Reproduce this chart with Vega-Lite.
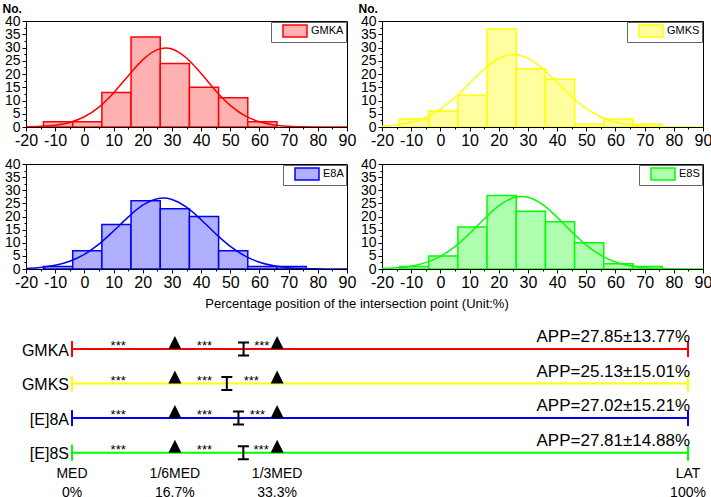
{
  "$schema": "https://vega.github.io/schema/vega-lite/v6.json",
  "bounds": "flush",
  "columns": 2,
  "spacing": {"row": 37, "column": 35},
  "padding": {"left": 1, "top": 1, "right": 5, "bottom": 0},
  "resolve": {"scale": {"fill": "independent", "color": "independent", "x": "independent", "y": "independent"}},
  "config": {
    "font": "Liberation Sans",
    "view": {"stroke": "black", "strokeWidth": 1},
    "axis": {"labelFont": "Liberation Sans", "titleFont": "Liberation Sans", "labelColor": "black", "titleColor": "black", "tickColor": "black", "domainColor": "black", "grid": false},
    "text": {"font": "Liberation Sans", "color": "black"},
    "legend": {"labelFont": "Liberation Sans", "labelColor": "black"},
    "title": {"font": "Liberation Sans", "color": "black"}
  },
  "datasets": {
    "hist": [
      {"group": "GMKA", "lo": -14, "hi": -4, "n": 2},
      {"group": "GMKA", "lo": -4, "hi": 6, "n": 2},
      {"group": "GMKA", "lo": 6, "hi": 16, "n": 13},
      {"group": "GMKA", "lo": 16, "hi": 26, "n": 34},
      {"group": "GMKA", "lo": 26, "hi": 36, "n": 24},
      {"group": "GMKA", "lo": 36, "hi": 46, "n": 15},
      {"group": "GMKA", "lo": 46, "hi": 56, "n": 11},
      {"group": "GMKA", "lo": 56, "hi": 66, "n": 2},
      {"group": "GMKS", "lo": -14, "hi": -4, "n": 3},
      {"group": "GMKS", "lo": -4, "hi": 6, "n": 6},
      {"group": "GMKS", "lo": 6, "hi": 16, "n": 12},
      {"group": "GMKS", "lo": 16, "hi": 26, "n": 37},
      {"group": "GMKS", "lo": 26, "hi": 36, "n": 22},
      {"group": "GMKS", "lo": 36, "hi": 46, "n": 18},
      {"group": "GMKS", "lo": 46, "hi": 56, "n": 1},
      {"group": "GMKS", "lo": 56, "hi": 66, "n": 3},
      {"group": "GMKS", "lo": 66, "hi": 76, "n": 1},
      {"group": "E8A", "lo": -14, "hi": -4, "n": 1},
      {"group": "E8A", "lo": -4, "hi": 6, "n": 7},
      {"group": "E8A", "lo": 6, "hi": 16, "n": 17},
      {"group": "E8A", "lo": 16, "hi": 26, "n": 26},
      {"group": "E8A", "lo": 26, "hi": 36, "n": 23},
      {"group": "E8A", "lo": 36, "hi": 46, "n": 20},
      {"group": "E8A", "lo": 46, "hi": 56, "n": 7},
      {"group": "E8A", "lo": 56, "hi": 66, "n": 1},
      {"group": "E8A", "lo": 66, "hi": 76, "n": 1},
      {"group": "E8S", "lo": -14, "hi": -4, "n": 1},
      {"group": "E8S", "lo": -4, "hi": 6, "n": 5},
      {"group": "E8S", "lo": 6, "hi": 16, "n": 16},
      {"group": "E8S", "lo": 16, "hi": 26, "n": 28},
      {"group": "E8S", "lo": 26, "hi": 36, "n": 22},
      {"group": "E8S", "lo": 36, "hi": 46, "n": 18},
      {"group": "E8S", "lo": 46, "hi": 56, "n": 10},
      {"group": "E8S", "lo": 56, "hi": 66, "n": 2},
      {"group": "E8S", "lo": 66, "hi": 76, "n": 1}
    ],
    "fit": [
      {"group": "GMKA", "x": -20, "y": 0.07}, {"group": "GMKA", "x": -15, "y": 0.24}, {"group": "GMKA", "x": -10, "y": 0.68}, {"group": "GMKA", "x": -5, "y": 1.73},
      {"group": "GMKA", "x": 0, "y": 3.86}, {"group": "GMKA", "x": 5, "y": 7.52}, {"group": "GMKA", "x": 10, "y": 12.87}, {"group": "GMKA", "x": 15, "y": 19.28},
      {"group": "GMKA", "x": 20, "y": 25.33}, {"group": "GMKA", "x": 25, "y": 29.18}, {"group": "GMKA", "x": 27.85, "y": 29.8}, {"group": "GMKA", "x": 30, "y": 29.44},
      {"group": "GMKA", "x": 35, "y": 26.04}, {"group": "GMKA", "x": 40, "y": 20.19}, {"group": "GMKA", "x": 45, "y": 13.72}, {"group": "GMKA", "x": 50, "y": 8.17},
      {"group": "GMKA", "x": 55, "y": 4.27}, {"group": "GMKA", "x": 60, "y": 1.95}, {"group": "GMKA", "x": 65, "y": 0.78}, {"group": "GMKA", "x": 70, "y": 0.28},
      {"group": "GMKA", "x": 75, "y": 0.08}, {"group": "GMKA", "x": 80, "y": 0.02}, {"group": "GMKA", "x": 85, "y": 0}, {"group": "GMKA", "x": 90, "y": 0},
      {"group": "GMKS", "x": -20, "y": 0.3}, {"group": "GMKS", "x": -15, "y": 0.77}, {"group": "GMKS", "x": -10, "y": 1.77}, {"group": "GMKS", "x": -5, "y": 3.65},
      {"group": "GMKS", "x": 0, "y": 6.75}, {"group": "GMKS", "x": 5, "y": 11.15}, {"group": "GMKS", "x": 10, "y": 16.49}, {"group": "GMKS", "x": 15, "y": 21.82},
      {"group": "GMKS", "x": 20, "y": 25.85}, {"group": "GMKS", "x": 25.13, "y": 27.4}, {"group": "GMKS", "x": 30, "y": 25.99}, {"group": "GMKS", "x": 35, "y": 22.07},
      {"group": "GMKS", "x": 40, "y": 16.77}, {"group": "GMKS", "x": 45, "y": 11.41}, {"group": "GMKS", "x": 50, "y": 6.94}, {"group": "GMKS", "x": 55, "y": 3.78},
      {"group": "GMKS", "x": 60, "y": 1.84}, {"group": "GMKS", "x": 65, "y": 0.8}, {"group": "GMKS", "x": 70, "y": 0.31}, {"group": "GMKS", "x": 75, "y": 0.11},
      {"group": "GMKS", "x": 80, "y": 0.03}, {"group": "GMKS", "x": 85, "y": 0.01}, {"group": "GMKS", "x": 90, "y": 0},
      {"group": "E8A", "x": -20, "y": 0.23}, {"group": "E8A", "x": -15, "y": 0.59}, {"group": "E8A", "x": -10, "y": 1.4}, {"group": "E8A", "x": -5, "y": 2.95},
      {"group": "E8A", "x": 0, "y": 5.58}, {"group": "E8A", "x": 5, "y": 9.48}, {"group": "E8A", "x": 10, "y": 14.45}, {"group": "E8A", "x": 15, "y": 19.77},
      {"group": "E8A", "x": 20, "y": 24.29}, {"group": "E8A", "x": 25, "y": 26.78}, {"group": "E8A", "x": 27.02, "y": 27.02}, {"group": "E8A", "x": 30, "y": 26.5},
      {"group": "E8A", "x": 35, "y": 23.54}, {"group": "E8A", "x": 40, "y": 18.78}, {"group": "E8A", "x": 45, "y": 13.43}, {"group": "E8A", "x": 50, "y": 8.63},
      {"group": "E8A", "x": 55, "y": 4.98}, {"group": "E8A", "x": 60, "y": 2.57}, {"group": "E8A", "x": 65, "y": 1.2}, {"group": "E8A", "x": 70, "y": 0.5},
      {"group": "E8A", "x": 75, "y": 0.19}, {"group": "E8A", "x": 80, "y": 0.06}, {"group": "E8A", "x": 85, "y": 0.02}, {"group": "E8A", "x": 90, "y": 0.01},
      {"group": "E8S", "x": -20, "y": 0.16}, {"group": "E8S", "x": -15, "y": 0.44}, {"group": "E8S", "x": -10, "y": 1.09}, {"group": "E8S", "x": -5, "y": 2.43},
      {"group": "E8S", "x": 0, "y": 4.82}, {"group": "E8S", "x": 5, "y": 8.53}, {"group": "E8S", "x": 10, "y": 13.5}, {"group": "E8S", "x": 15, "y": 19.07},
      {"group": "E8S", "x": 20, "y": 24.07}, {"group": "E8S", "x": 25, "y": 27.13}, {"group": "E8S", "x": 27.81, "y": 27.62}, {"group": "E8S", "x": 30, "y": 27.32},
      {"group": "E8S", "x": 35, "y": 24.58}, {"group": "E8S", "x": 40, "y": 19.75}, {"group": "E8S", "x": 45, "y": 14.17}, {"group": "E8S", "x": 50, "y": 9.08},
      {"group": "E8S", "x": 55, "y": 5.2}, {"group": "E8S", "x": 60, "y": 2.66}, {"group": "E8S", "x": 65, "y": 1.22}, {"group": "E8S", "x": 70, "y": 0.5},
      {"group": "E8S", "x": 75, "y": 0.18}, {"group": "E8S", "x": 80, "y": 0.06}, {"group": "E8S", "x": 85, "y": 0.02}, {"group": "E8S", "x": 90, "y": 0}
    ],
    "diag": [
      {"name": "GMKA", "mean": 27.85, "app": "APP=27.85±13.77%", "s1": 7.5, "s2": 21.5, "s3": 30.8},
      {"name": "GMKS", "mean": 25.13, "app": "APP=25.13±15.01%", "s1": 7.5, "s2": 21.5, "s3": 29.1},
      {"name": "[E]8A", "mean": 27.02, "app": "APP=27.02±15.21%", "s1": 7.5, "s2": 21.5, "s3": 30.1},
      {"name": "[E]8S", "mean": 27.81, "app": "APP=27.81±14.88%", "s1": 7.5, "s2": 21.5, "s3": 30.7}
    ],
    "ends": [
      {"label": "MED\n0%", "pos": 0},
      {"label": "1/6MED\n16.7%", "pos": 16.7},
      {"label": "1/3MED\n33.3%", "pos": 33.3},
      {"label": "LAT\n100%", "pos": 100}
    ]
  },
  "concat": [
    {
      "width": 321, "height": 106,
      "layer": [
        {
          "data": {"name": "hist"},
          "transform": [{"filter": "datum.group === 'GMKA'"}],
          "mark": {"type": "rect", "stroke": "#ff0000", "strokeWidth": 1.5, "clip": true},
          "encoding": {
            "x": {"field": "lo", "type": "quantitative", "scale": {"domain": [-20, 90], "nice": false, "zero": false},
              "axis": {"values": [-20, -10, 0, 10, 20, 30, 40, 50, 60, 70, 80, 90], "labelExpr": "datum.value < 0 ? '-' + abs(datum.value) : datum.label", "title": null, "labelFontSize": 16, "tickSize": 4, "labelPadding": 1, "labelOverlap": false, "labelFlush": false}},
            "x2": {"field": "hi"},
            "y": {"field": "n", "type": "quantitative", "scale": {"domain": [0, 40], "nice": false},
              "axis": {"values": [0, 5, 10, 15, 20, 25, 30, 35, 40], "title": "No.", "titleAngle": 0, "titleX": -24, "titleY": -9, "titleAlign": "left", "titleBaseline": "alphabetic", "titleFontSize": 12, "titleFontWeight": "bold", "labelFontSize": 14, "tickSize": 4, "labelPadding": 2, "labelOverlap": false, "labelFlush": false}},
            "y2": {"datum": 0},
            "fill": {"field": "group", "type": "nominal", "scale": {"range": ["#ffb0b0"]},
              "legend": {"orient": "top-right", "offset": 1, "title": null, "padding": 2, "strokeColor": "#666666", "fillColor": "white", "symbolType": "M-2,-1L2,-1L2,1L-2,1Z", "symbolSize": 144, "symbolStrokeColor": "#ff0000", "symbolStrokeWidth": 1.5, "symbolOffset": 15, "labelFontSize": 11, "labelOffset": 9, "labelExpr": "datum.label + '\u00a0\u00a0\u00a0\u00a0'"}}
          }
        },
        {
          "data": {"name": "fit"},
          "transform": [{"filter": "datum.group === 'GMKA'"}],
          "mark": {"type": "line", "stroke": "#ff0000", "strokeWidth": 1.5, "interpolate": "monotone", "clip": true},
          "encoding": {
            "x": {"field": "x", "type": "quantitative", "scale": {"domain": [-20, 90], "nice": false, "zero": false},
              "axis": {"values": [-15, -5, 5, 15, 25, 35, 45, 55, 65, 75, 85], "labels": false, "domain": false, "tickSize": 2, "title": null, "orient": "bottom"}},
            "y": {"field": "y", "type": "quantitative", "scale": {"domain": [0, 40], "nice": false},
              "axis": {"values": [2.5, 7.5, 12.5, 17.5, 22.5, 27.5, 32.5, 37.5], "labels": false, "domain": false, "tickSize": 2, "title": null, "orient": "left"}}
          }
        }
      ],
      "resolve": {"axis": {"x": "independent", "y": "independent"}}
    },
    {
      "width": 321, "height": 106,
      "layer": [
        {
          "data": {"name": "hist"},
          "transform": [{"filter": "datum.group === 'GMKS'"}],
          "mark": {"type": "rect", "stroke": "#ffff00", "strokeWidth": 1.5, "clip": true},
          "encoding": {
            "x": {"field": "lo", "type": "quantitative", "scale": {"domain": [-20, 90], "nice": false, "zero": false},
              "axis": {"values": [-20, -10, 0, 10, 20, 30, 40, 50, 60, 70, 80, 90], "labelExpr": "datum.value < 0 ? '-' + abs(datum.value) : datum.label", "title": null, "labelFontSize": 16, "tickSize": 4, "labelPadding": 1, "labelOverlap": false, "labelFlush": false}},
            "x2": {"field": "hi"},
            "y": {"field": "n", "type": "quantitative", "scale": {"domain": [0, 40], "nice": false},
              "axis": {"values": [0, 5, 10, 15, 20, 25, 30, 35, 40], "title": "No.", "titleAngle": 0, "titleX": -24, "titleY": -9, "titleAlign": "left", "titleBaseline": "alphabetic", "titleFontSize": 12, "titleFontWeight": "bold", "labelFontSize": 14, "tickSize": 4, "labelPadding": 2, "labelOverlap": false, "labelFlush": false}},
            "y2": {"datum": 0},
            "fill": {"field": "group", "type": "nominal", "scale": {"range": ["#ffffa0"]},
              "legend": {"orient": "top-right", "offset": 1, "title": null, "padding": 2, "strokeColor": "#666666", "fillColor": "white", "symbolType": "M-2,-1L2,-1L2,1L-2,1Z", "symbolSize": 144, "symbolStrokeColor": "#ffff00", "symbolStrokeWidth": 1.5, "symbolOffset": 15, "labelFontSize": 11, "labelOffset": 9, "labelExpr": "datum.label + '\u00a0\u00a0\u00a0\u00a0'"}}
          }
        },
        {
          "data": {"name": "fit"},
          "transform": [{"filter": "datum.group === 'GMKS'"}],
          "mark": {"type": "line", "stroke": "#ffff00", "strokeWidth": 1.5, "interpolate": "monotone", "clip": true},
          "encoding": {
            "x": {"field": "x", "type": "quantitative", "scale": {"domain": [-20, 90], "nice": false, "zero": false},
              "axis": {"values": [-15, -5, 5, 15, 25, 35, 45, 55, 65, 75, 85], "labels": false, "domain": false, "tickSize": 2, "title": null, "orient": "bottom"}},
            "y": {"field": "y", "type": "quantitative", "scale": {"domain": [0, 40], "nice": false},
              "axis": {"values": [2.5, 7.5, 12.5, 17.5, 22.5, 27.5, 32.5, 37.5], "labels": false, "domain": false, "tickSize": 2, "title": null, "orient": "left"}}
          }
        }
      ],
      "resolve": {"axis": {"x": "independent", "y": "independent"}}
    },
    {
      "width": 321, "height": 105,
      "layer": [
        {
          "data": {"name": "hist"},
          "transform": [{"filter": "datum.group === 'E8A'"}],
          "mark": {"type": "rect", "stroke": "#0000ff", "strokeWidth": 1.5, "clip": true},
          "encoding": {
            "x": {"field": "lo", "type": "quantitative", "scale": {"domain": [-20, 90], "nice": false, "zero": false},
              "axis": {"values": [-20, -10, 0, 10, 20, 30, 40, 50, 60, 70, 80, 90], "labelExpr": "datum.value < 0 ? '-' + abs(datum.value) : datum.label", "title": null, "labelFontSize": 16, "tickSize": 4, "labelPadding": 1, "labelOverlap": false, "labelFlush": false}},
            "x2": {"field": "hi"},
            "y": {"field": "n", "type": "quantitative", "scale": {"domain": [0, 40], "nice": false},
              "axis": {"values": [0, 5, 10, 15, 20, 25, 30, 35, 40], "title": null, "labelFontSize": 14, "tickSize": 4, "labelPadding": 2, "labelOverlap": false, "labelFlush": false}},
            "y2": {"datum": 0},
            "fill": {"field": "group", "type": "nominal", "scale": {"range": ["#b0b0ff"]},
              "legend": {"orient": "top-right", "offset": 1, "title": null, "padding": 2, "strokeColor": "#666666", "fillColor": "white", "symbolType": "M-2,-1L2,-1L2,1L-2,1Z", "symbolSize": 144, "symbolStrokeColor": "#0000ff", "symbolStrokeWidth": 1.5, "symbolOffset": 15, "labelFontSize": 11, "labelOffset": 9, "labelExpr": "datum.label + '\u00a0\u00a0\u00a0'"}}
          }
        },
        {
          "data": {"name": "fit"},
          "transform": [{"filter": "datum.group === 'E8A'"}],
          "mark": {"type": "line", "stroke": "#0000ff", "strokeWidth": 1.5, "interpolate": "monotone", "clip": true},
          "encoding": {
            "x": {"field": "x", "type": "quantitative", "scale": {"domain": [-20, 90], "nice": false, "zero": false},
              "axis": {"values": [-15, -5, 5, 15, 25, 35, 45, 55, 65, 75, 85], "labels": false, "domain": false, "tickSize": 2, "title": null, "orient": "bottom"}},
            "y": {"field": "y", "type": "quantitative", "scale": {"domain": [0, 40], "nice": false},
              "axis": {"values": [2.5, 7.5, 12.5, 17.5, 22.5, 27.5, 32.5, 37.5], "labels": false, "domain": false, "tickSize": 2, "title": null, "orient": "left"}}
          }
        }
      ],
      "resolve": {"axis": {"x": "independent", "y": "independent"}}
    },
    {
      "width": 321, "height": 105,
      "layer": [
        {
          "data": {"name": "hist"},
          "transform": [{"filter": "datum.group === 'E8S'"}],
          "mark": {"type": "rect", "stroke": "#00ff00", "strokeWidth": 1.5, "clip": true},
          "encoding": {
            "x": {"field": "lo", "type": "quantitative", "scale": {"domain": [-20, 90], "nice": false, "zero": false},
              "axis": {"values": [-20, -10, 0, 10, 20, 30, 40, 50, 60, 70, 80, 90], "labelExpr": "datum.value < 0 ? '-' + abs(datum.value) : datum.label", "title": null, "labelFontSize": 16, "tickSize": 4, "labelPadding": 1, "labelOverlap": false, "labelFlush": false}},
            "x2": {"field": "hi"},
            "y": {"field": "n", "type": "quantitative", "scale": {"domain": [0, 40], "nice": false},
              "axis": {"values": [0, 5, 10, 15, 20, 25, 30, 35, 40], "title": null, "labelFontSize": 14, "tickSize": 4, "labelPadding": 2, "labelOverlap": false, "labelFlush": false}},
            "y2": {"datum": 0},
            "fill": {"field": "group", "type": "nominal", "scale": {"range": ["#b0ffb0"]},
              "legend": {"orient": "top-right", "offset": 1, "title": null, "padding": 2, "strokeColor": "#666666", "fillColor": "white", "symbolType": "M-2,-1L2,-1L2,1L-2,1Z", "symbolSize": 144, "symbolStrokeColor": "#00ff00", "symbolStrokeWidth": 1.5, "symbolOffset": 15, "labelFontSize": 11, "labelOffset": 9, "labelExpr": "datum.label + '\u00a0\u00a0\u00a0'"}}
          }
        },
        {
          "data": {"name": "fit"},
          "transform": [{"filter": "datum.group === 'E8S'"}],
          "mark": {"type": "line", "stroke": "#00ff00", "strokeWidth": 1.5, "interpolate": "monotone", "clip": true},
          "encoding": {
            "x": {"field": "x", "type": "quantitative", "scale": {"domain": [-20, 90], "nice": false, "zero": false},
              "axis": {"values": [-15, -5, 5, 15, 25, 35, 45, 55, 65, 75, 85], "labels": false, "domain": false, "tickSize": 2, "title": null, "orient": "bottom"}},
            "y": {"field": "y", "type": "quantitative", "scale": {"domain": [0, 40], "nice": false},
              "axis": {"values": [2.5, 7.5, 12.5, 17.5, 22.5, 27.5, 32.5, 37.5], "labels": false, "domain": false, "tickSize": 2, "title": null, "orient": "left"}}
          }
        }
      ],
      "resolve": {"axis": {"x": "independent", "y": "independent"}}
    },
    {
      "width": 321,
      "height": 189.67,
      "view": {"stroke": null},
      "title": {"text": "Percentage position of the intersection point (Unit:%)", "anchor": "middle", "frame": "group", "fontSize": 13, "fontWeight": "normal", "baseline": "alphabetic", "offset": 0, "dy": 14.5, "dx": 170.5, "color": "black"},
      "data": {"name": "diag"},
      "encoding": {
        "y": {"field": "name", "type": "nominal", "scale": {"type": "point", "domain": ["GMKA", "GMKS", "[E]8A", "[E]8S"], "range": [43, 146.68], "padding": 0}, "axis": null}
      },
      "layer": [
        {
          "mark": {"type": "rule", "strokeWidth": 2},
          "encoding": {
            "x": {"datum": 0, "type": "quantitative", "scale": {"domain": [-7.47, 44.64], "nice": false, "zero": false, "clamp": false}, "axis": null},
            "x2": {"datum": 100},
            "color": {"field": "name", "type": "nominal", "scale": {"domain": ["GMKA", "GMKS", "[E]8A", "[E]8S"], "range": ["#ff0000", "#ffff00", "#0000ff", "#00ff00"]}, "legend": null}
          }
        },
        {
          "mark": {"type": "tick", "size": 16, "thickness": 2, "opacity": 1},
          "encoding": {
            "x": {"datum": 0, "type": "quantitative"},
            "color": {"field": "name", "type": "nominal", "legend": null}
          }
        },
        {
          "mark": {"type": "tick", "size": 16, "thickness": 2, "opacity": 1},
          "encoding": {
            "x": {"datum": 100, "type": "quantitative"},
            "color": {"field": "name", "type": "nominal", "legend": null}
          }
        },
        {
          "mark": {"type": "point", "shape": "M0,-1L1,1L-1,1Z", "filled": true, "color": "black", "opacity": 1, "size": 169, "yOffset": -6.5},
          "encoding": {"x": {"datum": 16.7, "type": "quantitative"}}
        },
        {
          "mark": {"type": "point", "shape": "M0,-1L1,1L-1,1Z", "filled": true, "color": "black", "opacity": 1, "size": 169, "yOffset": -6.5},
          "encoding": {"x": {"datum": 33.3, "type": "quantitative"}}
        },
        {
          "mark": {"type": "point", "shape": "M0,-1L0,1M-0.85,-1L0.85,-1M-0.85,1L0.85,1", "filled": false, "stroke": "black", "strokeWidth": 2, "opacity": 1, "size": 169},
          "encoding": {"x": {"field": "mean", "type": "quantitative"}}
        },
        {
          "mark": {"type": "text", "text": "***", "fontSize": 13, "baseline": "alphabetic", "dy": 1},
          "encoding": {"x": {"field": "s1", "type": "quantitative"}}
        },
        {
          "mark": {"type": "text", "text": "***", "fontSize": 13, "baseline": "alphabetic", "dy": 1},
          "encoding": {"x": {"field": "s2", "type": "quantitative"}}
        },
        {
          "mark": {"type": "text", "text": "***", "fontSize": 13, "baseline": "alphabetic", "dy": 1},
          "encoding": {"x": {"field": "s3", "type": "quantitative"}}
        },
        {
          "mark": {"type": "text", "align": "right", "baseline": "alphabetic", "dx": -3, "dy": 6.5, "fontSize": 16},
          "encoding": {"x": {"datum": 0, "type": "quantitative"}, "text": {"field": "name"}}
        },
        {
          "mark": {"type": "text", "align": "right", "baseline": "alphabetic", "dx": 2, "dy": -7, "fontSize": 17},
          "encoding": {"x": {"datum": 100, "type": "quantitative"}, "text": {"field": "app"}}
        },
        {
          "data": {"name": "ends"},
          "mark": {"type": "text", "align": "center", "baseline": "alphabetic", "lineBreak": "\n", "lineHeight": 18.4, "fontSize": 14, "dy": 25.6},
          "encoding": {
            "x": {"field": "pos", "type": "quantitative"},
            "y": {"datum": "[E]8S", "type": "nominal"},
            "text": {"field": "label"}
          }
        }
      ]
    }
  ]
}
